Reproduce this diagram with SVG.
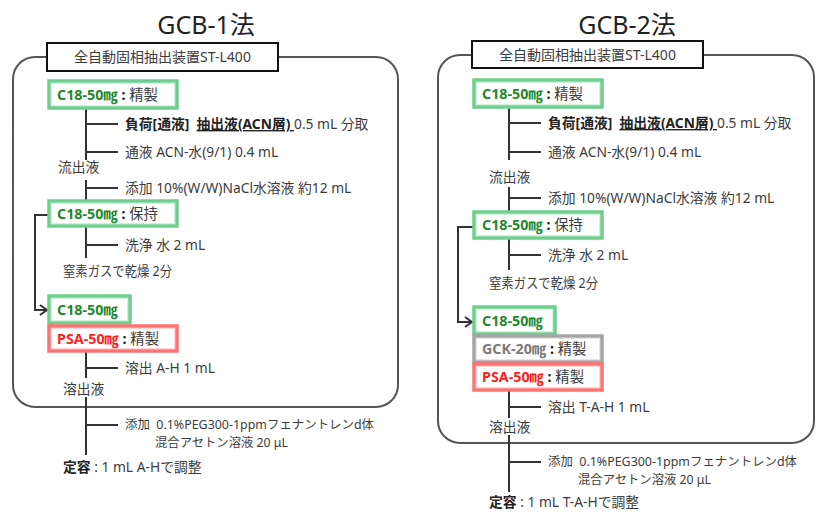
<svg xmlns="http://www.w3.org/2000/svg" width="816" height="512" viewBox="0 0 816 512">
<style>
.t{font-family:"Noto Sans","Noto Sans CJK JP",sans-serif;font-size:13.8px;fill:#3c3c3c}
.h{font-size:14px}
.bx{font-size:14.3px}
.sm{font-size:12.3px}
.title{font-family:"Noto Sans","Noto Sans CJK JP",sans-serif;font-size:25px;fill:#222}
.g{fill:#1f8a2c;font-weight:bold}
.r{fill:#ff1f1f;font-weight:bold}
.k{fill:#7a7a7a;font-weight:bold}
.b{font-weight:bold;fill:#222}
.u{text-decoration:underline}
.panel{fill:none;stroke:#555;stroke-width:2}
.hdr{fill:#fff;stroke:#111;stroke-width:2}
.bg{fill:#fff;stroke:#6ccf8d;stroke-width:3.5}
.bgi{fill:none;stroke:#d2f2dc;stroke-width:1}
.br{fill:#fff;stroke:#ff7272;stroke-width:3.5}
.bri{fill:none;stroke:#ffd6d6;stroke-width:1}
.bk{fill:#fff;stroke:#a5a5a5;stroke-width:3.5}
.bki{fill:none;stroke:#e6e6e6;stroke-width:1}
.ln{fill:none;stroke:#333;stroke-width:2}
</style>
<defs>
<marker id="arr" markerUnits="userSpaceOnUse" markerWidth="10" markerHeight="12" refX="8" refY="6" orient="auto">
<path d="M1,1 L8,6 L1,11" fill="none" stroke="#333" stroke-width="2"/>
</marker>
</defs>

<!-- titles -->
<text class="title" x="206" y="34" text-anchor="middle">GCB-1法</text>
<text class="title" x="627" y="34" text-anchor="middle">GCB-2法</text>

<!-- panels -->
<rect class="panel" x="13" y="57" width="385" height="350" rx="22"/>
<rect class="panel" x="438" y="55" width="376" height="388" rx="22"/>

<g id="hdr1"><rect class="hdr" x="47" y="43" width="231" height="28"/><text class="t h" x="162.5" y="62" text-anchor="middle">全自動固相抽出装置ST-L400</text></g>
<g id="hdr2"><rect class="hdr" x="472" y="41" width="231" height="27"/><text class="t h" x="587.5" y="59.5" text-anchor="middle">全自動固相抽出装置ST-L400</text></g>

<!-- connectors -->
<g id="connectors">
<path class="ln" d="M86,108 V160 M86,124 H118 M86,152 H118"/>
<path class="ln" d="M86,180 V201 M86,188 H118"/>
<path class="ln" d="M86,226 V258 M86,245 H118"/>
<path class="ln" d="M86,352 V378 M86,368 H118"/>
<path class="ln" d="M86,397 V455 M86,425 H118"/>
<path class="ln" d="M49,215 H35 V310 H47" marker-end="url(#arr)"/>
<path class="ln" d="M509,107 V160 M509,123 H541 M509,152 H541"/>
<path class="ln" d="M509,187 V212 M509,198 H541"/>
<path class="ln" d="M509,238 V270 M509,255 H541"/>
<path class="ln" d="M509,390 V418 M509,407 H541"/>
<path class="ln" d="M509,435 V492 M509,462 H541"/>
<path class="ln" d="M474,227 H458 V322 H472" marker-end="url(#arr)"/>
</g>

<!-- left column nodes -->
<g id="L_c18_1"><rect class="bg" x="49" y="81" width="128" height="27"/><rect class="bgi" x="51.5" y="83.5" width="123" height="22"/>
<text class="t bx" x="57" y="99.5"><tspan class="g">C18-50㎎</tspan><tspan class="b">&#160;: </tspan>精製</text></g>
<g id="L_t1"><text class="t" x="125" y="129"><tspan class="b">負荷[通液]</tspan>&#160; <tspan class="b u">抽出液(ACN層) </tspan>0.5 mL 分取</text></g>
<g id="L_t2"><text class="t" x="125" y="157">通液 ACN-水(9/1) 0.4 mL</text></g>
<g id="L_t3"><text class="t" x="58" y="172">流出液</text></g>
<g id="L_t4"><text class="t" x="125" y="193">添加 10%(W/W)NaCl水溶液 約12 mL</text></g>
<g id="L_c18_2"><rect class="bg" x="49" y="201" width="128" height="25"/><rect class="bgi" x="51.5" y="203.5" width="123" height="20"/>
<text class="t bx" x="57" y="218.5"><tspan class="g">C18-50㎎</tspan><tspan class="b">&#160;: </tspan>保持</text></g>
<g id="L_t5"><text class="t" x="125" y="250">洗浄 水 2 mL</text></g>
<g id="L_t6"><text class="t" x="63" y="276" textLength="109" lengthAdjust="spacingAndGlyphs">窒素ガスで乾燥 2分</text></g>
<g id="L_c18_3"><rect class="bg" x="49" y="296" width="81" height="27"/><rect class="bgi" x="51.5" y="298.5" width="76" height="22"/>
<text class="t bx" x="57" y="314.5"><tspan class="g">C18-50㎎</tspan></text></g>
<g id="L_psa"><rect class="br" x="49" y="326" width="128" height="25"/><rect class="bri" x="51.5" y="328.5" width="123" height="20"/>
<text class="t bx" x="57" y="343.5"><tspan class="r">PSA-50㎎</tspan><tspan class="b">&#160;: </tspan>精製</text></g>
<g id="L_t7"><text class="t" x="125" y="373">溶出 A-H 1 mL</text></g>
<g id="L_t8"><text class="t" x="63" y="394">溶出液</text></g>
<g id="L_t9"><text class="t sm" x="125" y="429" textLength="249" lengthAdjust="spacingAndGlyphs">添加&#160; 0.1%PEG300-1ppmフェナントレンd体</text><text class="t sm" x="155" y="447" textLength="133" lengthAdjust="spacingAndGlyphs">混合アセトン溶液 20 μL</text></g>
<g id="L_t10"><text class="t" x="63" y="472"><tspan class="b">定容</tspan> : 1 mL A-Hで調整</text></g>

<!-- right column nodes -->
<g id="R_c18_1"><rect class="bg" x="474" y="80" width="128" height="27"/><rect class="bgi" x="476.5" y="82.5" width="123" height="22"/>
<text class="t bx" x="482" y="98.5"><tspan class="g">C18-50㎎</tspan><tspan class="b">&#160;: </tspan>精製</text></g>
<g id="R_t1"><text class="t" x="548" y="128"><tspan class="b">負荷[通液]</tspan>&#160; <tspan class="b u">抽出液(ACN層) </tspan>0.5 mL 分取</text></g>
<g id="R_t2"><text class="t" x="548" y="157">通液 ACN-水(9/1) 0.4 mL</text></g>
<g id="R_t3"><text class="t" x="489" y="182">流出液</text></g>
<g id="R_t4"><text class="t" x="548" y="203">添加 10%(W/W)NaCl水溶液 約12 mL</text></g>
<g id="R_c18_2"><rect class="bg" x="474" y="212" width="128" height="26"/><rect class="bgi" x="476.5" y="214.5" width="123" height="21"/>
<text class="t bx" x="482" y="230"><tspan class="g">C18-50㎎</tspan><tspan class="b">&#160;: </tspan>保持</text></g>
<g id="R_t5"><text class="t" x="548" y="260">洗浄 水 2 mL</text></g>
<g id="R_t6"><text class="t" x="489" y="288" textLength="109" lengthAdjust="spacingAndGlyphs">窒素ガスで乾燥 2分</text></g>
<g id="R_c18_3"><rect class="bg" x="474" y="307" width="81" height="27"/><rect class="bgi" x="476.5" y="309.5" width="76" height="22"/>
<text class="t bx" x="482" y="325.5"><tspan class="g">C18-50㎎</tspan></text></g>
<g id="R_gck"><rect class="bk" x="474" y="336" width="128" height="26"/><rect class="bki" x="476.5" y="338.5" width="123" height="21"/>
<text class="t bx" x="482" y="354"><tspan class="k">GCK-20㎎</tspan><tspan class="b">&#160;: </tspan>精製</text></g>
<g id="R_psa"><rect class="br" x="474" y="364" width="128" height="26"/><rect class="bri" x="476.5" y="366.5" width="123" height="21"/>
<text class="t bx" x="482" y="382"><tspan class="r">PSA-50㎎</tspan><tspan class="b">&#160;: </tspan>精製</text></g>
<g id="R_t7"><text class="t" x="548" y="412">溶出 T-A-H 1 mL</text></g>
<g id="R_t8"><text class="t" x="489" y="432">溶出液</text></g>
<g id="R_t9"><text class="t sm" x="548" y="465.5" textLength="249" lengthAdjust="spacingAndGlyphs">添加&#160; 0.1%PEG300-1ppmフェナントレンd体</text><text class="t sm" x="578" y="483.5" textLength="133" lengthAdjust="spacingAndGlyphs">混合アセトン溶液 20 μL</text></g>
<g id="R_t10"><text class="t" x="489" y="507"><tspan class="b">定容</tspan> : 1 mL T-A-Hで調整</text></g>
</svg>
